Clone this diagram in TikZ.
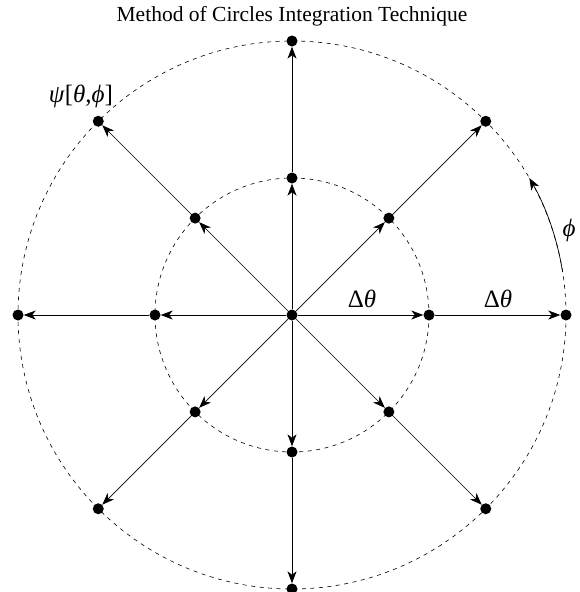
\documentclass[tikz,border=0pt]{standalone}
\usepackage{fontspec}
\setmainfont{Liberation Serif}
\usetikzlibrary{arrows.meta,calc}
\begin{document}
\begin{tikzpicture}[x=1pt,y=-1pt,
  dot/.style={circle,fill=black,inner sep=0pt,minimum size=11pt},
  tip/.style={-{Stealth[length=12pt,width=9pt,inset=3.5pt]}},
  ray/.style={line width=0.7pt,tip},
  circ/.style={line width=0.6pt,dash pattern=on 4pt off 4.5pt},
  lbl/.style={font=\fontsize{25}{27}\selectfont,inner sep=0pt}]
\useasboundingbox (0,0) rectangle (579,592);
\coordinate (c) at (292,315);
\draw[circ] (c) circle[radius=274];
\draw[circ] (c) circle[radius=137];
\node[dot] (o) at (c) {};
\foreach \a in {0,45,...,315}{
  \node[dot] (i\a) at ($(c)+(\a:137pt)$) {};
  \node[dot] (e\a) at ($(c)+(\a:274pt)$) {};
  \draw[ray] (o) -- (i\a);
  \draw[ray] (i\a) -- (e\a);
}
\coordinate (p0) at ($(c)+(9:274pt)$);
\draw[line width=0.7pt,tip] (p0) arc[start angle=9,end angle=30,radius=274pt];
\node[lbl] (d1) at (362,299) {Δ\textit{θ}};
\node[lbl] (d2) at (498,299) {Δ\textit{θ}};
\node[lbl] (ph) at (569,230) {\textit{ϕ}};
\node[lbl] (ps) at (81,96) {\textit{ψ}[\textit{θ},\textit{ϕ}]};
\node[font=\fontsize{21.5}{24}\selectfont] (t) at (292,16) {Method of Circles Integration Technique};
\end{tikzpicture}
\end{document}
